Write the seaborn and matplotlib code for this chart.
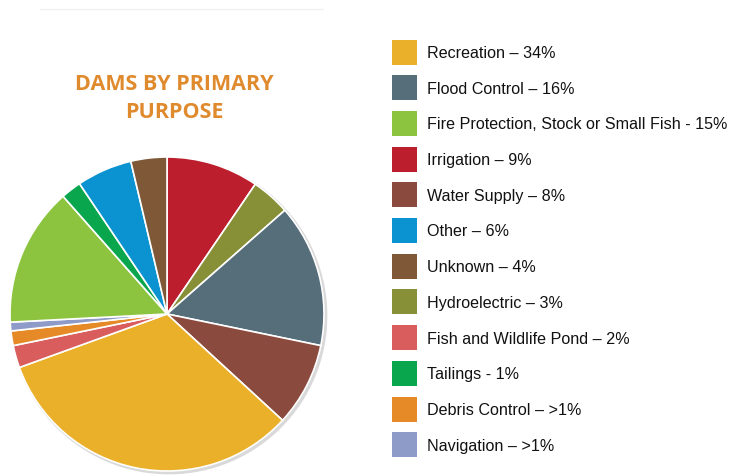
import matplotlib
matplotlib.use("Agg")
import matplotlib.pyplot as plt
from matplotlib.patches import Rectangle, Circle
from matplotlib.lines import Line2D
import seaborn as sns

sns.set_theme(style="white")
plt.rcParams['font.family'] = ['Liberation Sans', 'DejaVu Sans']

# Pie slices, clockwise from 12 o'clock
slice_names = ["Irrigation", "Hydroelectric", "Flood Control", "Water Supply",
               "Recreation", "Fish and Wildlife Pond", "Debris Control", "Navigation",
               "Fire Protection, Stock or Small Fish", "Tailings", "Other", "Unknown"]
slice_values = [9.5, 4.0, 14.7, 8.6, 32.6, 2.3, 1.5, 0.9, 14.3, 2.1, 5.7, 3.7]

colors = {
    "Recreation": "#EBB02A",
    "Flood Control": "#566D7A",
    "Fire Protection, Stock or Small Fish": "#8CC43F",
    "Irrigation": "#BD1E2D",
    "Water Supply": "#8B4A3E",
    "Other": "#0A93D0",
    "Unknown": "#7F5837",
    "Hydroelectric": "#878F37",
    "Fish and Wildlife Pond": "#D95D5D",
    "Tailings": "#0AA64D",
    "Debris Control": "#E58A26",
    "Navigation": "#8E9BC8",
}

# Legend entries
legend_names = ["Recreation", "Flood Control", "Fire Protection, Stock or Small Fish",
                "Irrigation", "Water Supply", "Other", "Unknown", "Hydroelectric",
                "Fish and Wildlife Pond", "Tailings", "Debris Control", "Navigation"]
legend_labels = ["Recreation – 34%", "Flood Control – 16%",
                 "Fire Protection, Stock or Small Fish - 15%", "Irrigation – 9%",
                 "Water Supply – 8%", "Other – 6%", "Unknown – 4%",
                 "Hydroelectric – 3%", "Fish and Wildlife Pond – 2%",
                 "Tailings - 1%", "Debris Control – >1%", "Navigation – >1%"]

title_text = "DAMS BY PRIMARY\nPURPOSE"

W, H = 729, 477
fig = plt.figure(figsize=(W / 100, H / 100), dpi=100)
fig.patch.set_facecolor("white")

cx, cy, r = 167, 315, 157
ax = fig.add_axes([(cx - r * 1.03) / W, (H - cy - r * 1.03) / H, 2 * r * 1.03 / W, 2 * r * 1.03 / H])
ax.add_patch(Circle((0.012, -0.012), 1.005, color="#d9d9d9", zorder=0))
ax.pie(slice_values, colors=[colors[n] for n in slice_names], startangle=90,
       counterclock=False, radius=1,
       wedgeprops=dict(edgecolor="white", linewidth=1.2))
ax.set_xlim(-1.03, 1.03)
ax.set_ylim(-1.03, 1.03)
ax.set_aspect("equal")
ax.axis("off")

# faint top rule
fig.add_artist(Line2D([40 / W, 323 / W], [1 - 10 / H, 1 - 10 / H], color="#f0f0f0", lw=1))

fig.text(174 / W, 1 - 98.5 / H, title_text, ha="center", va="center",
         fontsize=15.5, fontweight="bold", color="#E08A2E", family=["Open Sans", "DejaVu Sans"],
         linespacing=1.4)

row0, step = 53, 35.7
for i, (n, lab) in enumerate(zip(legend_names, legend_labels)):
    yc = row0 + i * step
    fig.add_artist(Rectangle((391.5 / W, 1 - (yc + 12.5) / H), 25 / W, 25 / H,
                             facecolor=colors[n], edgecolor="none", transform=fig.transFigure))
    fig.text(427 / W, 1 - (yc + 5) / H, lab, ha="left", va="baseline",
             fontsize=11.6, color="#111111")

fig.savefig("out.png", dpi=100, facecolor="white")
